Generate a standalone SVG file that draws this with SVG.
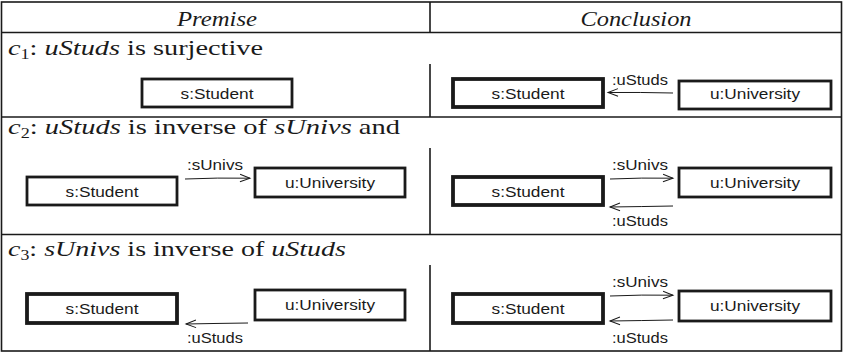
<svg xmlns="http://www.w3.org/2000/svg" width="843" height="353" viewBox="0 0 843 353">
  <style>
    .rule { stroke: #1a1a1a; stroke-width: 1.6; fill: none; }
    .box { fill: #ffffff; stroke: #1a1a1a; stroke-width: 2.8; }
    .box.thick { stroke-width: 3.8; }
    .head { font-family: "Liberation Serif", "Times New Roman", serif; font-style: italic; font-size: 22px; fill: #1a1a1a; }
    .cond { font-family: "Liberation Serif", "Times New Roman", serif; font-size: 22px; fill: #1a1a1a; }
    .it { font-style: italic; }
    .sub { font-size: 14px; }
    .name { font-family: "Liberation Sans", Arial, sans-serif; font-size: 15px; fill: #1a1a1a; text-anchor: middle; }
    .role { font-family: "Liberation Sans", Arial, sans-serif; font-size: 15px; fill: #1a1a1a; text-anchor: middle; }
    .link { fill: none; stroke: #1a1a1a; stroke-width: 1; marker-end: url(#open); }
  </style>
  <defs>
    <marker id="open" viewBox="-12 -6 14 12" refX="0" refY="0" markerWidth="14" markerHeight="12" markerUnits="userSpaceOnUse" orient="auto">
      <path d="M-10,-3.8 L0,0 L-10,3.8" fill="none" stroke="#1a1a1a" stroke-width="1"/>
    </marker>
  </defs>

  <!-- table frame and rules -->
  <g id="table">
    <rect class="rule" x="1.5" y="2" width="840" height="349"/>
    <line class="rule" x1="1.5" y1="32.5" x2="841.5" y2="32.5"/>
    <line class="rule" x1="1.5" y1="117" x2="841.5" y2="117"/>
    <line class="rule" x1="1.5" y1="234.5" x2="841.5" y2="234.5"/>
    <line class="rule" x1="430" y1="2" x2="430" y2="32.5"/>
    <line class="rule" x1="430" y1="64" x2="430" y2="117"/>
    <line class="rule" x1="430" y1="148" x2="430" y2="234.5"/>
    <line class="rule" x1="430" y1="265" x2="430" y2="351"/>
    <text class="head" x="217" y="26" text-anchor="middle" textLength="80" lengthAdjust="spacingAndGlyphs">Premise</text>
    <text class="head" x="636" y="26" text-anchor="middle" textLength="111" lengthAdjust="spacingAndGlyphs">Conclusion</text>
  </g>

  <!-- constraint captions -->
  <g id="captions">
    <text class="cond" x="8" y="55" textLength="255" lengthAdjust="spacingAndGlyphs"><tspan class="it">c</tspan><tspan class="sub" dy="4">1</tspan><tspan dy="-4">: </tspan><tspan class="it">uStuds</tspan> is surjective</text>
    <text class="cond" x="8" y="134" textLength="392" lengthAdjust="spacingAndGlyphs"><tspan class="it">c</tspan><tspan class="sub" dy="4">2</tspan><tspan dy="-4">: </tspan><tspan class="it">uStuds</tspan> is inverse of <tspan class="it">sUnivs</tspan> and</text>
    <text class="cond" x="8" y="256" textLength="338" lengthAdjust="spacingAndGlyphs"><tspan class="it">c</tspan><tspan class="sub" dy="4">3</tspan><tspan dy="-4">: </tspan><tspan class="it">sUnivs</tspan> is inverse of <tspan class="it">uStuds</tspan></text>
  </g>

  <!-- c1 -->
  <g id="c1-premise-student">
    <rect class="box" x="142" y="79" width="150" height="28"/>
    <text class="name" x="217" y="98.5" textLength="73" lengthAdjust="spacingAndGlyphs">s:Student</text>
  </g>
  <g id="c1-conclusion-student">
    <rect class="box thick" x="453" y="79" width="150" height="28"/>
    <text class="name" x="528" y="98.5" textLength="73" lengthAdjust="spacingAndGlyphs">s:Student</text>
  </g>
  <g id="c1-conclusion-university">
    <rect class="box" x="679" y="81" width="152" height="28"/>
    <text class="name" x="755" y="98.5" textLength="90" lengthAdjust="spacingAndGlyphs">u:University</text>
  </g>

  <!-- c2 -->
  <g id="c2-premise-student">
    <rect class="box" x="27" y="177" width="150" height="28"/>
    <text class="name" x="102" y="196.5" textLength="73" lengthAdjust="spacingAndGlyphs">s:Student</text>
  </g>
  <g id="c2-premise-university">
    <rect class="box" x="255" y="168" width="150" height="29"/>
    <text class="name" x="330" y="187.5" textLength="90" lengthAdjust="spacingAndGlyphs">u:University</text>
  </g>
  <g id="c2-conclusion-student">
    <rect class="box thick" x="453" y="177" width="150" height="28"/>
    <text class="name" x="528" y="196.5" textLength="73" lengthAdjust="spacingAndGlyphs">s:Student</text>
  </g>
  <g id="c2-conclusion-university">
    <rect class="box" x="679" y="168" width="152" height="29"/>
    <text class="name" x="755" y="187.5" textLength="90" lengthAdjust="spacingAndGlyphs">u:University</text>
  </g>

  <!-- c3 -->
  <g id="c3-premise-student">
    <rect class="box thick" x="27" y="294" width="150" height="29"/>
    <text class="name" x="102" y="313.5" textLength="73" lengthAdjust="spacingAndGlyphs">s:Student</text>
  </g>
  <g id="c3-premise-university">
    <rect class="box" x="255" y="290" width="150" height="30"/>
    <text class="name" x="330" y="310" textLength="90" lengthAdjust="spacingAndGlyphs">u:University</text>
  </g>
  <g id="c3-conclusion-student">
    <rect class="box thick" x="453" y="294" width="150" height="29"/>
    <text class="name" x="528" y="313.5" textLength="73" lengthAdjust="spacingAndGlyphs">s:Student</text>
  </g>
  <g id="c3-conclusion-university">
    <rect class="box" x="679" y="291" width="152" height="30"/>
    <text class="name" x="755" y="311" textLength="90" lengthAdjust="spacingAndGlyphs">u:University</text>
  </g>

  <!-- association links -->
  <g id="links">
    <path class="link" d="M673,93 Q640,92.2 608,92.5"/>
    <text class="role" x="640" y="85" textLength="56" lengthAdjust="spacingAndGlyphs">:uStuds</text>

    <path class="link" d="M185,179 Q217,177.6 250,178.2"/>
    <text class="role" x="215" y="170" textLength="56" lengthAdjust="spacingAndGlyphs">:sUnivs</text>

    <path class="link" d="M610,179 Q642,177.6 673,178.2"/>
    <text class="role" x="640" y="170" textLength="56" lengthAdjust="spacingAndGlyphs">:sUnivs</text>
    <path class="link" d="M673,206 Q641,206.6 610,207"/>
    <text class="role" x="640" y="226" textLength="56" lengthAdjust="spacingAndGlyphs">:uStuds</text>

    <path class="link" d="M248,323 Q217,323.4 186,324"/>
    <text class="role" x="215" y="343" textLength="56" lengthAdjust="spacingAndGlyphs">:uStuds</text>

    <path class="link" d="M610,296 Q642,294.6 673,295.2"/>
    <text class="role" x="640" y="287" textLength="56" lengthAdjust="spacingAndGlyphs">:sUnivs</text>
    <path class="link" d="M673,320 Q641,320.6 610,321"/>
    <text class="role" x="640" y="343" textLength="56" lengthAdjust="spacingAndGlyphs">:uStuds</text>
  </g>
</svg>
